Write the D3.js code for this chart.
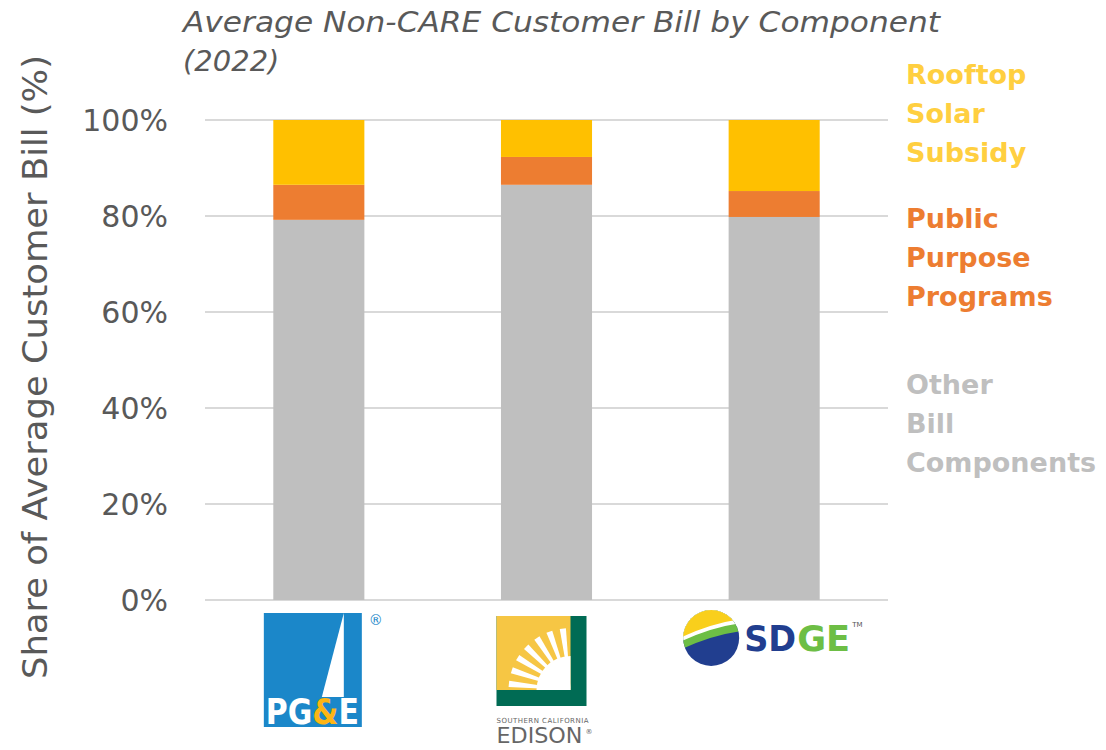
<!DOCTYPE html>
<html>
<head>
<meta charset="utf-8">
<script src="https://cdn.jsdelivr.net/npm/d3@7"></script>
<style>
  body { margin: 0; background: #fff; }
  text { font-family: "DejaVu Sans", sans-serif; }
</style>
</head>
<body>
<script>
// Data (share of bill, %)
var utilities = ["PG&E", "SCE", "SDGE"];
var otherBill = [79.2, 86.5, 79.8];
var publicPurpose = [7.3, 5.8, 5.4];
var rooftopSolar = [13.5, 7.7, 14.8];
var yTicks = [0, 20, 40, 60, 80, 100];

var colors = ["#BFBFBF", "#ED7D31", "#FFC000"];
var legendColors = ["#BFBFBF", "#ED7D31", "#FFCF40"];

var svg = d3.select("body")
  .append("svg")
    .attr("width", 1106)
    .attr("height", 750);

var x = d3.scaleBand()
  .domain(utilities)
  .range([205, 888])
  .paddingInner(0.6)
  .paddingOuter(0.3);

var y = d3.scaleLinear()
  .domain([0, 100])
  .range([600, 120]);

// gridlines
svg.append("g")
  .selectAll("line")
  .data(yTicks)
  .join("line")
    .attr("x1", 205).attr("x2", 888)
    .attr("y1", d => y(d)).attr("y2", d => y(d))
    .attr("stroke", "#D9D9D9").attr("stroke-width", 2);

// y axis labels
var yAxis = svg.append("g")
  .attr("transform", "translate(205,0)")
  .call(d3.axisLeft(y).tickValues(yTicks).tickFormat(d => d + "%").tickSize(0).tickPadding(37));
yAxis.select(".domain").remove();
yAxis.selectAll("text")
  .attr("fill", "#595959")
  .style("font-size", "30px")
  .attr("dy", "0.35em");

// stacked bars
var table = utilities.map((u, i) => ({
  name: u, other: otherBill[i], ppp: publicPurpose[i], solar: rooftopSolar[i]
}));
var stacked = d3.stack().keys(["other", "ppp", "solar"])(table);

svg.append("g")
  .selectAll("g")
  .data(stacked)
  .join("g")
    .attr("fill", (d, i) => colors[i])
  .selectAll("rect")
  .data(d => d)
  .join("rect")
    .attr("x", d => x(d.data.name))
    .attr("width", x.bandwidth())
    .attr("y", d => y(d[1]))
    .attr("height", d => y(d[0]) - y(d[1]));

// title
svg.append("text")
  .attr("x", 183).attr("y", 32)
  .attr("fill", "#595959")
  .style("font-size", "29px")
  .style("font-style", "italic")
  .attr("textLength", 757).attr("lengthAdjust", "spacingAndGlyphs")
  .text("Average Non-CARE Customer Bill by Component");
svg.append("text")
  .attr("x", 183).attr("y", 71)
  .attr("fill", "#595959")
  .style("font-size", "29px")
  .style("font-style", "italic")
  .text("(2022)");

// y axis title
svg.append("text")
  .attr("transform", "translate(47,367) rotate(-90)")
  .attr("text-anchor", "middle")
  .attr("fill", "#595959")
  .style("font-size", "33px")
  .attr("textLength", 624).attr("lengthAdjust", "spacingAndGlyphs")
  .text("Share of Average Customer Bill (%)");

// legend on the right
var legendLines = [
  ["Other", "Bill", "Components"],
  ["Public", "Purpose", "Programs"],
  ["Rooftop", "Solar", "Subsidy"]
];
var legendTop = [394, 228, 84];
legendLines.forEach((lines, i) => {
  var t = svg.append("text")
    .attr("x", 906).attr("y", legendTop[i])
    .attr("fill", legendColors[i])
    .style("font-size", "27px")
    .style("font-weight", "bold");
  lines.forEach((s, j) => {
    t.append("tspan").attr("x", 906).attr("dy", j == 0 ? 0 : 39).text(s);
  });
});

// logos under each bar
var logos = svg.append("g");
var defs = svg.append("defs");

// PG&E
var grad = defs.append("linearGradient").attr("id", "pgeFill");
[[0, "#fff"], [0.52, "#fff"], [0.52, "#FDB515"], [0.76, "#FDB515"], [0.76, "#fff"], [1, "#fff"]]
  .forEach(s => grad.append("stop").attr("offset", s[0]).attr("stop-color", s[1]));

var cx = x("PG&E") + x.bandwidth() / 2;
var pg = logos.append("g").attr("transform", "translate(" + (cx - 55) + ",613)");
pg.append("rect").attr("width", 98).attr("height", 114).attr("fill", "#1B87C9");
pg.append("path").attr("d", "M80,0 L58,84 L80,84 Z").attr("fill", "#fff");
pg.append("text").attr("x", 2).attr("y", 111)
  .style("font-size", "36px").style("font-weight", "bold")
  .attr("textLength", 93).attr("lengthAdjust", "spacingAndGlyphs")
  .attr("fill", "url(#pgeFill)").text("PG&E");
pg.append("text").attr("x", 105).attr("y", 12).attr("fill", "#1B87C9")
  .style("font-size", "14px").text("®");

// SCE
cx = x("SCE") + x.bandwidth() / 2;
var sc = logos.append("g").attr("transform", "translate(" + (cx - 50) + ",616)");
sc.append("rect").attr("width", 90).attr("height", 90).attr("fill", "#006B54");
sc.append("rect").attr("width", 74).attr("height", 74).attr("fill", "#F6C644");
var rays = d3.range(7).map(k => {
  var a0 = Math.PI + (k * (Math.PI / 2)) / 7 + 0.05;
  var a1 = a0 + 0.1;
  var r = 62;
  return "M74,74 L" + (74 + r * Math.cos(a0)) + "," + (74 + r * Math.sin(a0)) +
    " L" + (74 + r * Math.cos(a1)) + "," + (74 + r * Math.sin(a1)) + " Z";
});
sc.selectAll("path.ray").data(rays).join("path").attr("class", "ray").attr("d", d => d).attr("fill", "#fff");
sc.append("path").attr("d", "M74,40 A34,34 0 0 0 40,74 L74,74 Z").attr("fill", "#fff");
sc.append("text").attr("x", 0).attr("y", 107).attr("fill", "#666")
  .style("font-size", "7px").attr("textLength", 92).text("SOUTHERN CALIFORNIA");
sc.append("text").attr("x", 0).attr("y", 127).attr("fill", "#666")
  .style("font-size", "21px").attr("textLength", 86).attr("lengthAdjust", "spacingAndGlyphs").text("EDISON");
sc.append("text").attr("x", 89).attr("y", 118).attr("fill", "#666").style("font-size", "7px").text("®");

// SDGE
cx = x("SDGE") + x.bandwidth() / 2;
var sd = logos.append("g").attr("transform", "translate(" + (cx - 92) + ",609)");
sd.append("clipPath").attr("id", "sdclip").append("circle").attr("cx", 29).attr("cy", 29).attr("r", 28);
var ball = sd.append("g").attr("clip-path", "url(#sdclip)");
ball.append("rect").attr("width", 60).attr("height", 60).attr("fill", "#213E8F");
ball.append("path").attr("d", "M0,0 H60 V22 Q30,26 0,40 Z").attr("fill", "#6DBE45");
ball.append("path").attr("d", "M0,0 H60 V14 Q30,18 0,32 Z").attr("fill", "#fff");
ball.append("path").attr("d", "M0,0 H60 V10 Q30,14 0,28 Z").attr("fill", "#F9CF1C");
sd.append("text").attr("x", 62).attr("y", 42)
  .style("font-size", "36px").style("font-weight", "bold")
  .attr("textLength", 52).attr("lengthAdjust", "spacingAndGlyphs")
  .attr("fill", "#213E8F").text("SD");
sd.append("text").attr("x", 115).attr("y", 42)
  .style("font-size", "36px").style("font-weight", "bold")
  .attr("textLength", 53).attr("lengthAdjust", "spacingAndGlyphs")
  .attr("fill", "#6DBE45").text("GE");
sd.append("text").attr("x", 170).attr("y", 18).attr("fill", "#555").style("font-size", "7px").text("TM");
</script>
</body>
</html>
